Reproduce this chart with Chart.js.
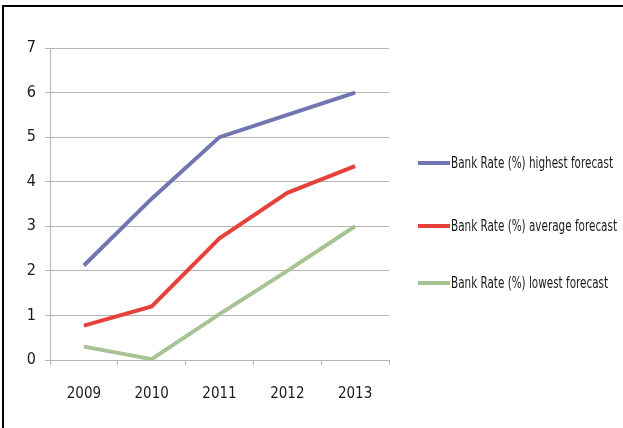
<!DOCTYPE html>
<html>
<head>
<meta charset="utf-8">
<script src="https://cdn.jsdelivr.net/npm/chart.js@4"></script>
<style>
  body { margin: 0; background: #fff; }
  #wrap { position: relative; width: 623px; height: 428px; }
  #frame { position: absolute; left: 2px; top: 5px; right: 0; bottom: 0; border-top: 2px solid #000; border-left: 2px solid #000; pointer-events: none; }
  canvas { position: absolute; left: 0; top: 0; }
</style>
</head>
<body>
<div id="wrap">
  <canvas id="myChart" width="623" height="428"></canvas>
  <div id="frame"></div>
</div>
<script>
const years = ["2009", "2010", "2011", "2012", "2013"];
const highest = [2.12, 3.62, 5.0, 5.5, 6.0];
const average = [0.77, 1.2, 2.73, 3.75, 4.35];
const lowest = [0.3, 0.02, 1.03, 2.0, 3.0];
const seriesNames = [
  "Bank Rate (%) highest forecast",
  "Bank Rate (%) average forecast",
  "Bank Rate (%) lowest forecast",
];
const yTicks = [0, 1, 2, 3, 4, 5, 6, 7];

const FONT = "'DejaVu Sans Condensed', 'Liberation Sans Narrow', sans-serif";
const gridGray = "#b5b5b5";

// legend drawn by hand, so the spacing matches the picture
const sideLegend = {
  id: "sideLegend",
  afterDraw(chart) {
    let ctx = chart.ctx;
    let rows = [163, 226, 283];
    ctx.save();
    ctx.font = "16px " + FONT;
    ctx.textBaseline = "middle";
    // squeeze the text so it is as narrow as the original (Calibri-like)
    let squeeze = 162 / ctx.measureText(seriesNames[0]).width;
    chart.data.datasets.forEach((ds, i) => {
      ctx.strokeStyle = ds.borderColor;
      ctx.lineWidth = 4;
      ctx.beginPath();
      ctx.moveTo(418, rows[i]);
      ctx.lineTo(450, rows[i]);
      ctx.stroke();
      ctx.save();
      ctx.translate(451, rows[i] + 1);
      ctx.scale(squeeze, 1);
      ctx.fillStyle = "#1a1a1a";
      ctx.fillText(ds.label, 0, 0);
      ctx.restore();
    });
    ctx.restore();
  },
};

new Chart("myChart", {
  type: "line",
  data: {
    labels: years,
    datasets: [
      { label: seriesNames[0], data: highest, borderColor: "#7176b0", borderWidth: 4 },
      { label: seriesNames[1], data: average, borderColor: "#e5423b", borderWidth: 4 },
      { label: seriesNames[2], data: lowest, borderColor: "#a7c393", borderWidth: 4 },
    ],
  },
  options: {
    responsive: false,
    animation: false,
    elements: { point: { radius: 0 }, line: { tension: 0, borderCapStyle: "butt" } },
    layout: { padding: { top: 48, left: 0, right: 234, bottom: 0 } },
    plugins: { legend: { display: false }, tooltip: { enabled: false } },
    scales: {
      x: {
        offset: true,
        grid: { offset: true, drawOnChartArea: false, drawTicks: true, tickLength: 5, color: gridGray },
        border: { color: gridGray },
        ticks: { padding: 20, color: "#1a1a1a", font: { family: FONT, size: 15 } },
        afterFit(s) { s.height = 68; },
      },
      y: {
        min: 0,
        max: 7,
        afterBuildTicks(s) { s.ticks = yTicks.map((v) => ({ value: v })); },
        grid: { color: gridGray, tickLength: 5 },
        border: { color: gridGray },
        ticks: { padding: 9, color: "#1a1a1a", font: { family: FONT, size: 16 } },
        afterFit(s) { s.width = 50; },
      },
    },
  },
  plugins: [sideLegend],
});
</script>
</body>
</html>
